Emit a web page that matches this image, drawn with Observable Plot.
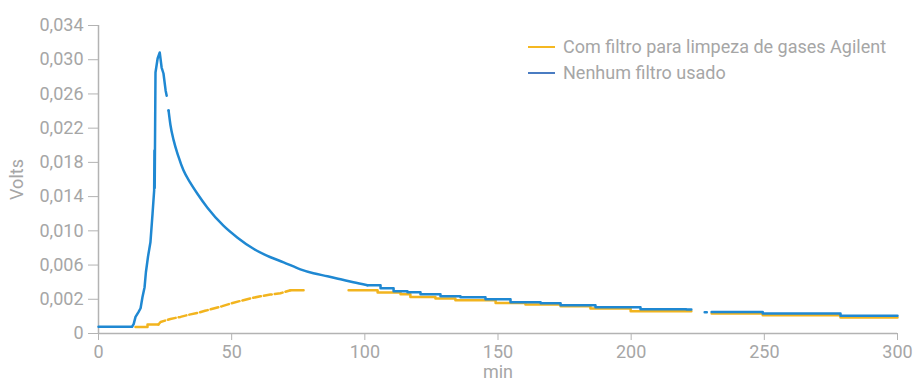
<!DOCTYPE html>
<html><head><meta charset="utf-8">
<script src="https://cdn.jsdelivr.net/npm/d3@7"></script>
<script src="https://cdn.jsdelivr.net/npm/@observablehq/plot@0.6"></script>
<style>
body{margin:0;background:#fff;}
#wrap{position:relative;width:915px;height:381px;font-family:Roboto,sans-serif;}
.legend{position:absolute;left:528px;top:34px;font-size:18px;color:#a6a6a6;line-height:26px;}
.item{display:flex;align-items:center;height:26px;white-space:nowrap;}
.swatch{width:27px;height:2px;margin-right:8px;}
</style></head><body><div id="wrap"></div>
<script>
const seriesNames = ["Com filtro para limpeza de gases Agilent", "Nenhum filtro usado"];
const seriesColors = ["#f2b41e", "#1f88d2"];
const legendColors = ["#f5b821", "#4a7cc2"];

const xTicks = [0, 50, 100, 150, 200, 250, 300];
const yTickValues = [-0.002, 0.002, 0.006, 0.010, 0.014, 0.018, 0.022, 0.026, 0.030, 0.034];
const yTickLabels = ["0", "0,002", "0,006", "0,010", "0,014", "0,018", "0,022", "0,026", "0,030", "0,034"];

// Nenhum filtro usado (min, volts)
const blueMin = [0, 12.6, 13.2, 13.9, 15.0, 15.8, 16.5, 17.3, 17.8, 18.6, 19.5, 20.3, 20.9, 21.0, 21.1, 21.4, 22.2, 23.0, 23.7, 24.4, 25.2, 25.6, 25.7, 26.3, 27.0, 28.2, 30.0, 31.9, 34.5, 37.2, 40.9, 46.9, 52.2, 58.2, 64.6, 69.5, 75.8, 80.7, 86.0, 90.9, 95.7, 101.0, 105.9, 110.8, 116.0, 120.9, 128.4, 135.9, 145.3, 154.7, 166.0, 173.5, 186.6, 203.5, 220.7, 222.6, 222.7, 227.6, 228.4, 228.5, 230.2, 247.4, 249.4, 276.7, 278.6, 300];
const blueVolts = [-0.00121, -0.00121, -0.0009, -0.00006, 0.0005, 0.00095, 0.00224, 0.00341, 0.00516, 0.0070, 0.00866, 0.01205, 0.01473, 0.0194, 0.0150, 0.02851, 0.03014, 0.03084, 0.02909, 0.02839, 0.02641, 0.0258, null, 0.02407, 0.0224, 0.0206, 0.0187, 0.01707, 0.0156, 0.0143, 0.0127, 0.0106, 0.0092, 0.0079, 0.00691, 0.00632, 0.00550, 0.00504, 0.00469, 0.00434, 0.00399, 0.00364, 0.00329, 0.00294, 0.00282, 0.00259, 0.00235, 0.00224, 0.0020, 0.00165, 0.00154, 0.0013, 0.00107, 0.00084, 0.0008, 0.0008, null, 0.00049, 0.00049, null, 0.00052, 0.00052, 0.00034, 0.00034, 0.00008, 0.00008];

// Com filtro para limpeza de gases Agilent (min, volts)
const orangeMin = [13.9, 18.4, 22.5, 23.3, 27.0, 30.8, 34.0, 37.2, 40.0, 43.2, 46.5, 49.6, 53.3, 57.0, 60.8, 64.5, 68.3, 72.1, 77.0, 77.1, 93.9, 104.8, 113.4, 117.1, 126.5, 134.0, 149.1, 160.3, 173.5, 184.7, 199.8, 222.6, 222.7, 230.2, 249.4, 278.6, 300];
const orangeVolts = [-0.00123, -0.00095, -0.00095, -0.00065, -0.0003, -0.00006, 0.0002, 0.00041, 0.00065, 0.00092, 0.0012, 0.0015, 0.00181, 0.0021, 0.00235, 0.00255, 0.0027, 0.00306, 0.00306, null, 0.00306, 0.00279, 0.00259, 0.00227, 0.00209, 0.00189, 0.00157, 0.00139, 0.00119, 0.00092, 0.0006, 0.0006, null, 0.00034, 0.00014, -0.00013, -0.00013];
const orangeDashedRange = [22.5, 72.1];
const blueDecayRange = [26.3, 101.0];

const blue = blueMin.map((m, i) => ({min: m, v: blueVolts[i]}));
const orange = orangeMin.map((m, i) => ({min: m, v: orangeVolts[i]}));
const blueRise = blue.filter(d => d.min <= blueDecayRange[0]);
const blueDecay = blue.filter(d => d.min >= blueDecayRange[0] && d.min <= blueDecayRange[1]);
const blueTail = blue.filter(d => d.min >= blueDecayRange[1]);
const orangeSolidA = orange.filter(d => d.min <= orangeDashedRange[0]);
const orangeDashed = orange.filter(d => d.min >= orangeDashedRange[0] && d.min <= orangeDashedRange[1]);
const orangeSolidB = orange.filter(d => d.min >= orangeDashedRange[1]);

const axisGrey = "#b3b3b3";
const chart = Plot.plot({
  width: 915, height: 381,
  marginLeft: 98, marginRight: 18, marginTop: 25, marginBottom: 48,
  style: {fontFamily: "Roboto, sans-serif", fontSize: "18px", color: "#a6a6a6", background: "white"},
  x: {domain: [0, 300]},
  y: {domain: [-0.002, 0.034]},
  marks: [
    Plot.ruleY([-0.002], {stroke: axisGrey, strokeWidth: 1.5}),
    Plot.ruleX([0], {stroke: axisGrey, strokeWidth: 1.5}),
    Plot.axisY({ticks: yTickValues, tickFormat: d => yTickLabels[yTickValues.indexOf(d)], tickSize: 10, tickPadding: 5, stroke: axisGrey, label: "Volts", labelAnchor: "center", labelArrow: "none", labelOffset: 88}),
    Plot.axisX({ticks: xTicks, tickSize: 7, tickPadding: 5, stroke: axisGrey, label: "min", labelAnchor: "center", labelArrow: "none", labelOffset: 44}),
    Plot.line(orangeSolidA, {x: "min", y: "v", curve: "step-after", stroke: seriesColors[0], strokeWidth: 2.5}),
    Plot.line(orangeDashed, {x: "min", y: "v", curve: "linear", stroke: seriesColors[0], strokeWidth: 2.5, strokeDasharray: "8,3"}),
    Plot.line(orangeSolidB, {x: "min", y: "v", curve: "step-after", stroke: seriesColors[0], strokeWidth: 2.5}),
    Plot.line(blueRise, {x: "min", y: "v", curve: "linear", stroke: seriesColors[1], strokeWidth: 2.5}),
    Plot.line(blueDecay, {x: "min", y: "v", curve: "monotone-x", stroke: seriesColors[1], strokeWidth: 2.5}),
    Plot.line(blueTail, {x: "min", y: "v", curve: "step-after", stroke: seriesColors[1], strokeWidth: 2.5})
  ]
});
const wrap = document.getElementById("wrap");
wrap.appendChild(chart);
const legend = document.createElement("div");
legend.className = "legend";
seriesNames.forEach((n, i) => {
  const it = document.createElement("div");
  it.className = "item";
  const sw = document.createElement("span");
  sw.className = "swatch";
  sw.style.background = legendColors[i];
  const t = document.createElement("span");
  t.textContent = n;
  it.appendChild(sw); it.appendChild(t);
  legend.appendChild(it);
});
wrap.appendChild(legend);
</script></body></html>
